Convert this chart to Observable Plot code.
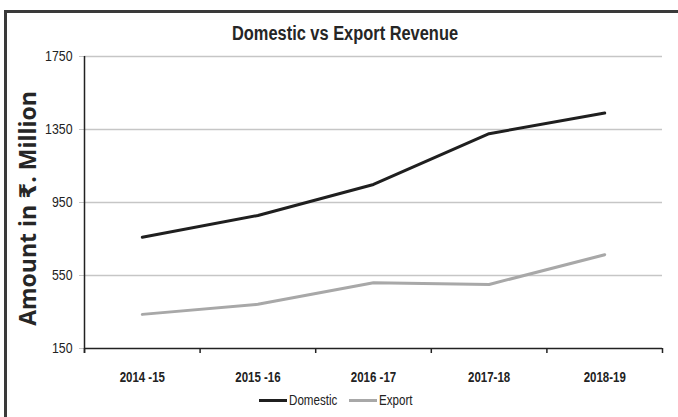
<!DOCTYPE html>
<html><head><meta charset="utf-8">
<script src="https://cdn.jsdelivr.net/npm/d3@7"></script>
<script src="https://cdn.jsdelivr.net/npm/@observablehq/plot@0.6"></script>
<style>
body{margin:0;background:#fff;}
#wrap{position:relative;width:678px;height:417px;overflow:hidden;background:#fff;}
#frame{position:absolute;left:4px;top:10px;width:720px;height:440px;border-left:3px solid #3a3a3a;border-top:3px solid #3a3a3a;box-sizing:border-box;pointer-events:none;}
#title{position:absolute;left:345px;top:22px;white-space:nowrap;font:bold 20px "Liberation Sans",sans-serif;color:#262626;transform:translateX(-50%) scaleX(0.82);}
#legend{position:absolute;top:392px;left:0;width:678px;height:18px;font:14.5px "Liberation Sans",sans-serif;color:#222;}
#legend .item{position:absolute;display:flex;align-items:center;}
#legend .sw{display:inline-block;width:28px;height:3px;margin-right:2px;}
#legend .lab{display:inline-block;transform:scaleX(0.8);transform-origin:left center;white-space:nowrap;}
#chart{position:absolute;left:0;top:0;}
#chart svg{overflow:visible;}
#chart [aria-label="y-axis tick label"] text{font:14.5px "Liberation Sans",sans-serif;fill:#222;}
#chart [aria-label="y-axis label"] text, #chart [aria-label="y-axis label"]{font:bold 23px "Open Sans","DejaVu Sans",sans-serif;fill:#262626;}
#chart g.xlab text{font:bold 14px "Liberation Sans",sans-serif;fill:#222;}
</style></head>
<body>
<div id="wrap">
  <div id="chart"></div>
  <div id="title"></div>
  <div id="legend"></div>
  <div id="frame"></div>
</div>
<script>
const title = "Domestic vs Export Revenue";
const yLabel = "Amount in ₹. Million";
const years = ["2014 -15", "2015 -16", "2016 -17", "2017-18", "2018-19"];
const seriesNames = ["Domestic", "Export"];
const domestic = [760, 879, 1049, 1327, 1440];
const exportRev = [337, 392, 510, 501, 664];
const yTicks = [150, 550, 950, 1350, 1750];
const seriesColors = ["#1f1f1f", "#a8a8a8"];

const values = [domestic, exportRev];
const rows = seriesNames.flatMap((s, k) => values[k].map((v, i) => ({series: s, i, value: v})));
const idx = years.map((_, i) => i);
const bounds = d3.range(years.length + 1).map(i => i - 0.5);

document.getElementById("title").textContent = title;

const chart = Plot.plot({
  width: 678, height: 417,
  marginLeft: 84, marginRight: 16, marginTop: 56, marginBottom: 69,
  x: {type: "linear", domain: [-0.5, years.length - 0.5]},
  y: {domain: [yTicks[0], yTicks[yTicks.length - 1]]},
  color: {domain: seriesNames, range: seriesColors},
  marks: [
    Plot.gridY(yTicks.slice(1), {stroke: "#c6c6c6", strokeOpacity: 1, strokeWidth: 1.6}),
    Plot.axisY(yTicks, {tickSize: 5, tickPadding: 7, stroke: "#c6c6c6", tickFormat: d3.format("d"), label: yLabel, labelAnchor: "center", labelArrow: "none", labelOffset: 67}),
    Plot.ruleX([-0.5], {stroke: "#222", strokeWidth: 1.5, y1: yTicks[0], y2: yTicks[yTicks.length - 1], insetTop: 5}),
    Plot.ruleY([yTicks[0]], {stroke: "#222", strokeWidth: 1.5}),
    Plot.axisX(bounds, {tickSize: 5, stroke: "#222", strokeWidth: 1.5, tickFormat: () => "", label: null}),
    Plot.axisX(idx, {tickSize: 0, tickPadding: 24, tickFormat: i => years[i], label: null, className: "xlab"}),
    Plot.line(rows, {x: "i", y: "value", z: "series", stroke: "series", strokeWidth: 3})
  ]
});
document.getElementById("chart").appendChild(chart);

// condense tick labels (narrow font look)
function condense(sel, k) {
  chart.querySelectorAll(sel).forEach(t => {
    const w = t.getComputedTextLength();
    if (w > 0) {
      t.setAttribute("textLength", (w * k).toFixed(2));
      t.setAttribute("lengthAdjust", "spacingAndGlyphs");
    }
  });
}
condense('[aria-label="y-axis tick label"] text', 0.85);
condense('g.xlab text', 0.82);

// nudge the y-axis title slightly right and down
const yl = chart.querySelector('[aria-label="y-axis label"]');
if (yl) yl.setAttribute("transform", `translate(2,6) ${yl.getAttribute("transform") || ""}`);

const legend = document.getElementById("legend");
seriesNames.forEach((s, k) => {
  const it = document.createElement("span");
  it.className = "item";
  const sw = document.createElement("span");
  sw.className = "sw";
  sw.style.background = seriesColors[k];
  const lab = document.createElement("span");
  lab.className = "lab";
  lab.textContent = s;
  it.appendChild(sw);
  it.appendChild(lab);
  legend.appendChild(it);
});
const items = [...legend.querySelectorAll(".item")];
const widths = items.map(it => 30 + it.querySelector(".lab").getBoundingClientRect().width);
const gap = 12;
const total = widths.reduce((a, b) => a + b, 0) + gap * (items.length - 1);
let x0 = 336 - total / 2;
items.forEach((it, k) => { it.style.left = x0 + "px"; x0 += widths[k] + gap; });
</script>
</body></html>
